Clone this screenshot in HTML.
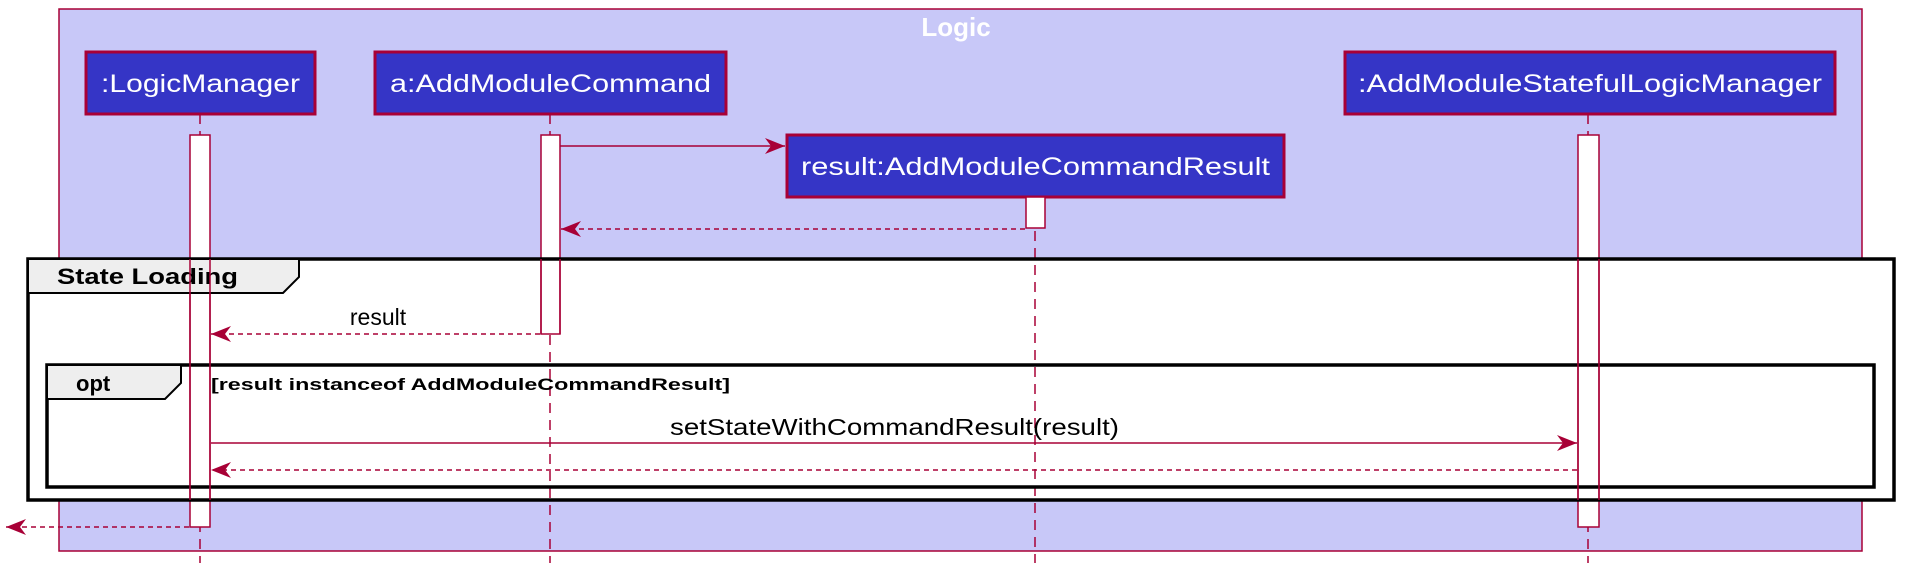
<!DOCTYPE html>
<html><head><meta charset="utf-8"><style>
html,body{margin:0;padding:0;background:#fff;}
svg{display:block;}
text{font-family:"Liberation Sans","DejaVu Sans",sans-serif;}
</style></head><body>
<svg width="1914" height="585" viewBox="0 0 1914 585" xmlns="http://www.w3.org/2000/svg">
<defs>
<marker id="ahb" viewBox="0 0 20 16" refX="20" refY="8" markerWidth="20" markerHeight="16" markerUnits="userSpaceOnUse" orient="auto">
<path d="M0,0 L20,8 L0,16 L6,8 Z" fill="#A80036"/>
</marker>
</defs>
<!-- Logic box -->
<rect x="59" y="9" width="1803" height="542" fill="#C8C8F8" stroke="#A80036" stroke-width="1.5"/>
<text x="956" y="36" font-size="26" font-weight="bold" fill="#fff" text-anchor="middle">Logic</text>

<!-- frame backgrounds -->
<rect x="28" y="259" width="1866" height="241" fill="#fff" stroke="none"/>

<!-- lifelines -->
<g stroke="#A80036" stroke-width="1.5" stroke-dasharray="10,7">
<line x1="200" y1="114" x2="200" y2="563"/>
<line x1="550" y1="114" x2="550" y2="563"/>
<line x1="1035" y1="197" x2="1035" y2="563"/>
<line x1="1588" y1="114" x2="1588" y2="563"/>
</g>

<!-- participants -->
<g stroke="#A80036" stroke-width="3" fill="#3535C6">
<rect x="86" y="52" width="229" height="62"/>
<rect x="375" y="52" width="351" height="62"/>
<rect x="787" y="135" width="497" height="62"/>
<rect x="1345" y="52" width="490" height="62"/>
</g>
<g fill="#fff" font-size="25">
<text x="101" y="92" textLength="199" lengthAdjust="spacingAndGlyphs">:LogicManager</text>
<text x="390" y="92" textLength="321" lengthAdjust="spacingAndGlyphs">a:AddModuleCommand</text>
<text x="801" y="175" textLength="469" lengthAdjust="spacingAndGlyphs">result:AddModuleCommandResult</text>
<text x="1358" y="92" textLength="464" lengthAdjust="spacingAndGlyphs">:AddModuleStatefulLogicManager</text>
</g>

<!-- activations -->
<g fill="#fff" stroke="#A80036" stroke-width="1.5">
<rect x="190" y="135" width="20" height="392"/>
<rect x="541" y="135" width="19" height="199"/>
<rect x="1026" y="197" width="19" height="31"/>
<rect x="1578" y="135" width="21" height="392"/>
</g>

<!-- frames -->
<rect x="28" y="259" width="1866" height="241" fill="none" stroke="#000" stroke-width="3.5"/>
<path d="M28,259 L299,259 L299,277 L283,293 L28,293 Z" fill="#EEEEEE" stroke="#000" stroke-width="2"/>
<text x="57" y="284" font-size="22" font-weight="bold" fill="#000" textLength="181" lengthAdjust="spacingAndGlyphs">State Loading</text>

<rect x="47" y="365" width="1827" height="122" fill="none" stroke="#000" stroke-width="3.5"/>
<path d="M47,365 L181,365 L181,383 L165,399 L47,399 Z" fill="#EEEEEE" stroke="#000" stroke-width="2"/>
<text x="76" y="391" font-size="22" font-weight="bold" fill="#000">opt</text>
<text x="211" y="390" font-size="17" font-weight="bold" fill="#000" textLength="519" lengthAdjust="spacingAndGlyphs">[result instanceof AddModuleCommandResult]</text>

<g fill="none" stroke="#A80036" stroke-width="1.5">
<line x1="190" y1="259" x2="190" y2="500"/><line x1="210" y1="259" x2="210" y2="500"/>
<line x1="541" y1="259" x2="541" y2="334"/><line x1="560" y1="259" x2="560" y2="334"/>
<line x1="1578" y1="259" x2="1578" y2="500"/><line x1="1599" y1="259" x2="1599" y2="500"/>
</g>

<!-- messages -->
<g stroke="#A80036" stroke-width="1.5" fill="none">
<line x1="560" y1="146" x2="785" y2="146" marker-end="url(#ahb)"/>
<line x1="1025" y1="229" x2="561" y2="229" stroke-dasharray="5,4" marker-end="url(#ahb)"/>
<line x1="540" y1="334" x2="211" y2="334" stroke-dasharray="5,4" marker-end="url(#ahb)"/>
<line x1="211" y1="443" x2="1577" y2="443" marker-end="url(#ahb)"/>
<line x1="1577" y1="470" x2="211" y2="470" stroke-dasharray="5,4" marker-end="url(#ahb)"/>
<line x1="189" y1="527" x2="6" y2="527" stroke-dasharray="5,4" marker-end="url(#ahb)"/>
</g>
<text x="378" y="325" font-size="23" fill="#000" text-anchor="middle">result</text>
<text x="670" y="435" font-size="23" fill="#000" textLength="449" lengthAdjust="spacingAndGlyphs">setStateWithCommandResult(result)</text>
</svg>
</body></html>
